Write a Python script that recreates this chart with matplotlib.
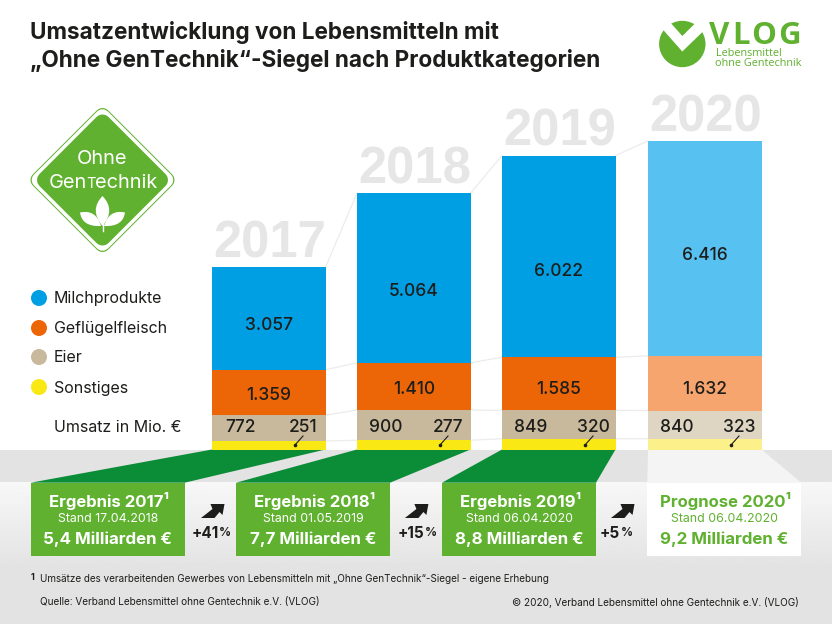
#!/usr/bin/env python3
"""Umsatzentwicklung "Ohne GenTechnik": stacked bars plus the VLOG infographic furniture."""
import numpy as np
import matplotlib
matplotlib.use("Agg")
import matplotlib.pyplot as plt
from matplotlib.patches import Circle, PathPatch, Polygon, Rectangle
from matplotlib.path import Path

plt.rcParams["font.family"] = ["Inter", "DejaVu Sans"]

years = ["2017", "2018", "2019", "2020"]
categories = ["Milchprodukte", "Geflügelfleisch", "Eier", "Sonstiges"]
milch = [3057, 5064, 6022, 6416]
gefluegel = [1359, 1410, 1585, 1632]
eier = [772, 900, 849, 840]
sonstiges = [251, 277, 320, 323]
box_titles = ["Ergebnis 2017¹", "Ergebnis 2018¹", "Ergebnis 2019¹", "Prognose 2020¹"]
box_stand = ["Stand 17.04.2018", "Stand 01.05.2019", "Stand 06.04.2020", "Stand 06.04.2020"]
box_totals = ["5,4 Milliarden €", "7,7 Milliarden €", "8,8 Milliarden €", "9,2 Milliarden €"]
growth = ["+41", "+15", "+5"]

COLORS = ["#009fe3", "#ec6608", "#c8b89c", "#f9e814"]
COLORS_2020 = ["#57c2f2", "#f7a56f", "#dfd5c3", "#fbf08a"]
GREEN = "#5fb12f"
DARK_GREEN = "#0b8c37"
INK = "#1d1d1b"
YEAR_GRAY = "#e6e6e6"

W, H = 832, 624
BASE_Y = 449.5
PX_PER_UNIT = 0.0335  # bar scale: picture pixels per Mio. €
BAR_LEFT = [212, 357, 502, 648]
BAR_W = 113.5
BOX_LEFT = [30.7, 236, 442, 647.3]
BOX_W = 154
BAND_BOTTOM = 482.7
BOX_BOTTOM = 556


def de_num(v):
    return f"{v:,}".replace(",", ".")


def pixel_axes(fig, zorder):
    ax = fig.add_axes([0, 0, 1, 1], zorder=zorder)
    ax.set_xlim(0, W)
    ax.set_ylim(H, 0)
    ax.axis("off")
    return ax


def draw_background(ax):
    ax.add_patch(Rectangle((0, BASE_Y), W, H - BASE_Y, color="#e3e3e3", lw=0))
    grad = np.linspace(0.97, 0.89, 64).reshape(-1, 1)
    ax.imshow(grad, cmap="gray", vmin=0, vmax=1, aspect="auto",
              extent=(0, W, BOX_BOTTOM + 12, BAND_BOTTOM), zorder=1)
    ax.set_xlim(0, W)
    ax.set_ylim(H, 0)
    for left, box_left in zip(BAR_LEFT[:3], BOX_LEFT[:3]):
        ax.add_patch(Polygon([(left, BASE_Y), (left + BAR_W, BASE_Y),
                              (box_left + BOX_W, BAND_BOTTOM), (box_left, BAND_BOTTOM)],
                             color=DARK_GREEN, lw=0, zorder=2))
    ax.add_patch(Polygon([(BAR_LEFT[3], BASE_Y), (BAR_LEFT[3] + BAR_W, BASE_Y),
                          (BOX_LEFT[3] + BOX_W, BAND_BOTTOM), (BOX_LEFT[3], BAND_BOTTOM)],
                         color="#f4f4f4", lw=0, zorder=2))


def draw_bars(ax):
    # y axis runs in Mio. €, lined up so that 0 sits on the grey band
    ax.set_xlim(0, W)
    ax.set_ylim(-(H - BASE_Y) / PX_PER_UNIT, BASE_Y / PX_PER_UNIT)
    ax.axis("off")
    ax.patch.set_alpha(0)
    series = [sonstiges, eier, gefluegel, milch]
    palette = [COLORS[3], COLORS[2], COLORS[1], COLORS[0]]
    palette_2020 = [COLORS_2020[3], COLORS_2020[2], COLORS_2020[1], COLORS_2020[0]]
    bottom = np.zeros(len(years))
    for values, col, col_2020 in zip(series, palette, palette_2020):
        bar_colors = [col, col, col, col_2020]
        ax.bar(BAR_LEFT, values, width=BAR_W, bottom=bottom, align="edge", color=bar_colors, lw=0, zorder=3)
        bottom = bottom + np.array(values)
        # thin connectors between the segment edges of neighbouring bars
        for i in range(len(years) - 1):
            ax.plot([BAR_LEFT[i] + BAR_W, BAR_LEFT[i + 1]], [bottom[i], bottom[i + 1]],
                    color="#ececec", lw=0.9, zorder=1)


def draw_year_labels(ax):
    for year, left, top in zip(years, BAR_LEFT, [267, 193, 156, 141]):
        ax.text(left + BAR_W / 2 + 1, top - 10, year, ha="center", va="baseline", fontsize=36.5,
                fontweight="bold", color=YEAR_GRAY, family="Liberation Sans")


def draw_value_labels(ax):
    milch_y = [326, 292, 272, 256]
    gefl_y = [396, 390, 389, 389]
    for i, left in enumerate(BAR_LEFT):
        cx = left + BAR_W / 2
        ax.text(cx, milch_y[i], de_num(milch[i]), ha="center", va="center", fontsize=12.5, fontweight="medium", color=INK)
        ax.text(cx, gefl_y[i], de_num(gefluegel[i]), ha="center", va="center", fontsize=12.5, fontweight="medium", color=INK)
        ax.text(left + 29, 427.5, str(eier[i]), ha="center", va="center", fontsize=12.5, fontweight="medium", color=INK)
        ax.text(left + 91, 427.5, str(sonstiges[i]), ha="center", va="center", fontsize=12.5, fontweight="medium", color=INK)
        ax.plot([left + 91, left + 83], [436, 445], color=INK, lw=0.8)
        ax.plot([left + 83], [445], "o", color=INK, ms=2.6, mew=0)


def draw_legend(ax):
    for name, col, y in zip(categories, COLORS, [298, 328, 357, 387]):
        ax.add_patch(Circle((39, y), 8, color=col, lw=0))
        ax.text(54, y + 1, name, ha="left", va="center", fontsize=11.5, color=INK)
    ax.text(54, 428, "Umsatz in Mio. €", ha="left", va="center", fontsize=11.5, color=INK)


def draw_boxes(ax):
    for i, left in enumerate(BOX_LEFT):
        prognose = i == 3
        face = "white" if prognose else GREEN
        txt = GREEN if prognose else "white"
        ax.add_patch(Rectangle((left, BAND_BOTTOM), BOX_W, BOX_BOTTOM - BAND_BOTTOM, color=face, lw=0))
        cx = left + BOX_W / 2
        ax.text(cx + 1.5, 501, box_titles[i], ha="center", va="center", fontsize=12, fontweight="bold", color=txt)
        ax.text(cx, 519, box_stand[i], ha="center", va="center", fontsize=8.9, color=txt)
        ax.text(cx, 539, box_totals[i], ha="center", va="center", fontsize=12.2, fontweight="bold", color=txt)


def draw_growth(ax):
    arrow = np.array([(-11.5, 14), (0, 5), (-2, 0), (12, 0), (10, 11), (7, 8), (2, 14)])
    for label, ax_x, split in zip(growth, [212.5, 416.4, 622.5], [218.5, 424, 620]):
        ax.add_patch(Polygon(arrow + (ax_x, 504), color=INK, lw=0))
        ax.text(split, 533, label, ha="right", va="center", fontsize=11, fontweight="bold", color=INK)
        ax.text(split + 0.5, 533.5, "%", ha="left", va="center", fontsize=8.5, fontweight="bold", color=INK)


def draw_seal(ax):
    cx, cy = 102.5, 180
    layers = [(64, 8, GREEN), (63.2, 7.6, "white"), (57, 8.5, GREEN)]
    for h, r, col in layers:
        pts = [(cx - h, cy), (cx, cy - h), (cx + h, cy), (cx, cy + h)]
        ax.add_patch(Polygon(pts, facecolor=col, edgecolor=col, lw=2 * r * 0.72, joinstyle="round"))
    ax.text(cx, 159.5, "Ohne", ha="center", va="center", fontsize=14.4, color="white")
    ax.text(49, 188, "Gen", ha="left", va="baseline", fontsize=14.4, color="white")
    ax.text(86, 188, "T", ha="left", va="baseline", fontsize=10.5, color="white")
    ax.text(95, 188, "echnik", ha="left", va="baseline", fontsize=14.4, color="white")
    # plant: three leaves and a stem
    codes = [Path.MOVETO, Path.CURVE3, Path.CURVE3, Path.CURVE3, Path.CURVE3]
    leaves = [
        [(102.5, 226), (89, 210), (102.5, 196), (116, 210), (102.5, 226)],
        [(101, 226), (96, 209), (80, 212.5), (82, 227), (101, 226)],
        [(104, 226), (109, 209), (125, 212.5), (123, 227), (104, 226)],
    ]
    for pts in leaves:
        ax.add_patch(PathPatch(Path(pts, codes), facecolor="white", lw=0))
    ax.plot([102.5, 102.5], [218, 231], color="white", lw=1)


def draw_vlog(ax):
    ax.add_patch(Circle((682.3, 44), 23.2, color=GREEN, lw=0))
    chevron = [(661.5, 28), (669, 21), (682.3, 36), (696, 22.5), (703.5, 31), (682.3, 51.5)]
    ax.add_patch(Polygon(chevron, color="white", lw=0))
    for letter, x in zip("VLOG", [709, 732, 751, 778]):
        ax.text(x, 44, letter, ha="left", va="baseline", fontsize=22.5, fontweight="bold",
                color=GREEN, family="Open Sans")
    ax.text(716, 54, "Lebensmittel", ha="left", va="center", fontsize=7.8, color=GREEN, family="Open Sans")
    ax.text(715, 64, "ohne Gentechnik", ha="left", va="center", fontsize=7.8, color=GREEN, family="Open Sans")


def draw_texts(ax):
    ax.text(30, 32, "Umsatzentwicklung von Lebensmitteln mit", ha="left", va="center",
            fontsize=16.25, fontweight="bold", color=INK)
    ax.text(30, 60, "„Ohne GenTechnik“-Siegel nach Produktkategorien", ha="left", va="center",
            fontsize=16.25, fontweight="bold", color=INK)
    ax.text(31, 578, "1", ha="left", va="center", fontsize=6.5, fontweight="bold", color=INK)
    ax.text(40, 579, "Umsätze des verarbeitenden Gewerbes von Lebensmitteln mit „Ohne GenTechnik“-Siegel - eigene Erhebung",
            ha="left", va="center", fontsize=7.15, color=INK)
    ax.text(40, 602, "Quelle: Verband Lebensmittel ohne Gentechnik e.V. (VLOG)", ha="left", va="center",
            fontsize=7.2, color=INK)
    ax.text(799, 602, "© 2020, Verband Lebensmittel ohne Gentechnik e.V. (VLOG)", ha="right", va="center",
            fontsize=7.2, color=INK)


def main():
    fig = plt.figure(figsize=(W / 100, H / 100), dpi=100, facecolor="white")
    back = pixel_axes(fig, 0)
    bars = fig.add_axes([0, 0, 1, 1], zorder=1)
    front = pixel_axes(fig, 2)
    draw_background(back)
    draw_bars(bars)
    draw_year_labels(front)
    draw_value_labels(front)
    draw_legend(front)
    draw_boxes(front)
    draw_growth(front)
    draw_seal(front)
    draw_vlog(front)
    draw_texts(front)
    fig.savefig("out.png", dpi=100)
    plt.close(fig)


if __name__ == "__main__":
    main()
